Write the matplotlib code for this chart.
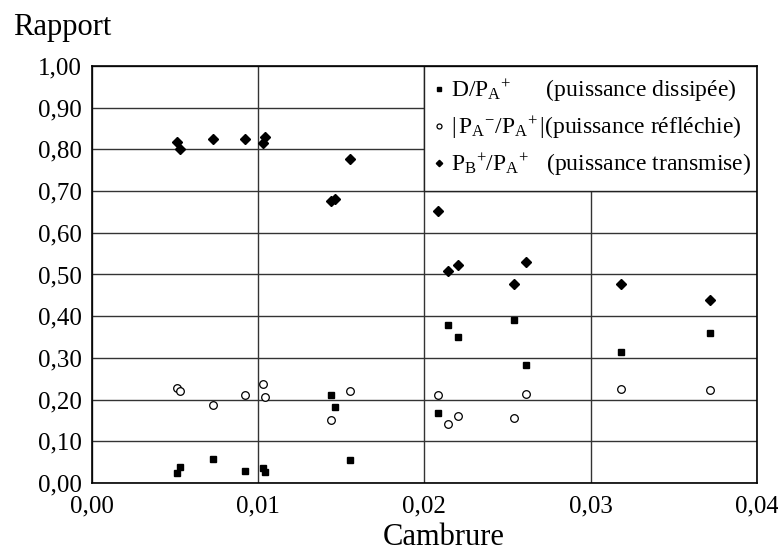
import matplotlib
matplotlib.use("Agg")
import matplotlib.pyplot as plt
from matplotlib.patches import Rectangle
from matplotlib.ticker import FuncFormatter

plt.rcParams['font.family'] = ['Liberation Serif', 'DejaVu Serif']
plt.rcParams['mathtext.fontset'] = 'custom'
plt.rcParams['mathtext.rm'] = 'Liberation Serif'
plt.rcParams['mathtext.it'] = 'Liberation Serif:italic'

# puissance dissipée D/PA+
x_diss = [0.0051, 0.0053, 0.0073, 0.0092, 0.0103, 0.0104, 0.0144, 0.0146, 0.0155,
          0.0208, 0.0214, 0.0220, 0.0254, 0.0261, 0.0318, 0.0372]
y_diss = [0.024, 0.039, 0.058, 0.028, 0.036, 0.026, 0.212, 0.182, 0.056,
          0.167, 0.378, 0.350, 0.391, 0.282, 0.314, 0.359]

# puissance réfléchie |PA-/PA+|
x_refl = [0.0051, 0.0053, 0.0073, 0.0092, 0.0103, 0.0104, 0.0144, 0.0155,
          0.0208, 0.0214, 0.0220, 0.0254, 0.0261, 0.0318, 0.0372]
y_refl = [0.228, 0.220, 0.187, 0.212, 0.237, 0.205, 0.150, 0.220,
          0.212, 0.141, 0.160, 0.157, 0.214, 0.226, 0.223]

# puissance transmise PB+/PA+
x_trans = [0.0051, 0.0053, 0.0073, 0.0092, 0.0103, 0.0104, 0.0144, 0.0146, 0.0155,
           0.0208, 0.0214, 0.0220, 0.0254, 0.0261, 0.0318, 0.0372]
y_trans = [0.818, 0.800, 0.824, 0.824, 0.816, 0.830, 0.677, 0.680, 0.776,
           0.653, 0.509, 0.522, 0.478, 0.529, 0.478, 0.438]

lab_diss = r'$\mathrm{D/P_A{}^{+}}$      (puissance dissipée)'
lab_refl = r'$\mathrm{|\,P_A{}^{-}/P_A{}^{+}\,|}$(puissance réfléchie)'
lab_trans = r'$\mathrm{P_B{}^{+}/P_A{}^{+}}$   (puissance transmise)'

fig = plt.figure(figsize=(7.78, 5.59), dpi=100)
ax = fig.add_axes([0.118, 0.136, 0.855, 0.746])

ax.set_xlim(0, 0.04)
ax.set_ylim(0, 1.0)
ax.set_xticks([0, 0.01, 0.02, 0.03, 0.04])
ax.set_yticks([i / 10 for i in range(11)])
fmt = FuncFormatter(lambda v, p: f"{v:.2f}".replace('.', ','))
ax.xaxis.set_major_formatter(fmt)
ax.yaxis.set_major_formatter(fmt)
ax.tick_params(length=0, labelsize=18)
ax.tick_params(axis='x', pad=9)
ax.tick_params(axis='y', pad=7)
ax.grid(True, color='#333333', lw=1.0)
ax.set_axisbelow(True)
for s in ax.spines.values():
    s.set_color('black')
    s.set_linewidth(1.2)

# white box for the legend, covering the grid
ax.add_patch(Rectangle((0.02, 0.7), 0.02, 0.3, facecolor='white',
                       edgecolor='#222222', lw=1.0, zorder=1.5))

ax.plot(x_diss, y_diss, ls='none', marker='s', ms=5, color='black', label=lab_diss, zorder=3)
ax.plot(x_refl, y_refl, ls='none', marker='o', ms=5.5, mfc='white', mec='black',
        mew=0.9, label=lab_refl, zorder=3)
ax.plot(x_trans, y_trans, ls='none', marker='D', ms=5, color='black', label=lab_trans, zorder=3)

leg = ax.legend(loc='upper left', bbox_to_anchor=(0.492, 1.012), frameon=False,
                fontsize=17, handlelength=0.3, handletextpad=0.35, labelspacing=0.45,
                markerscale=0.65, borderaxespad=0.3)
leg.set_zorder(4)

ax.set_xlabel('Cambrure', fontsize=22)
ax.xaxis.set_label_coords(0.529, -0.095)
fig.text(0.017, 0.937, 'Rapport', fontsize=22, ha='left', va='baseline')

plt.savefig('out.png', dpi=100)
